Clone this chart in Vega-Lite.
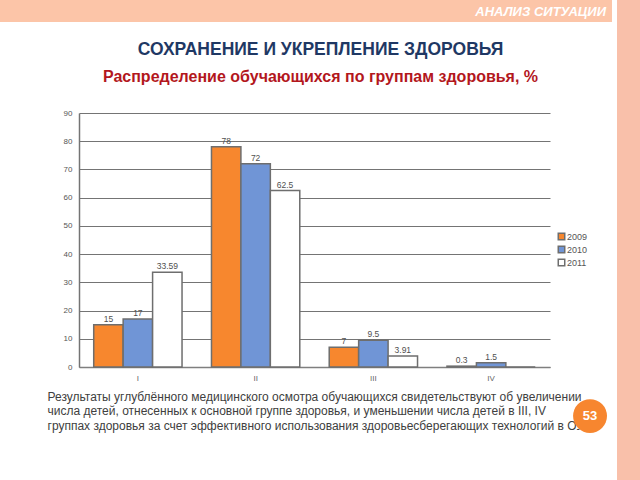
{
  "$schema": "https://vega.github.io/schema/vega-lite/v6.json",
  "padding": 0,
  "background": "white",
  "config": {"view": {"stroke": null}, "font": "Liberation Sans"},
  "bounds": "full",
  "spacing": 5,
  "hconcat": [
    {
      "bounds": "flush",
      "spacing": 91,
      "vconcat": [
        {
          "width": 612,
          "height": 22,
          "view": {"fill": "#fcc5a8", "stroke": null},
          "data": {"values": [{"label": "АНАЛИЗ СИТУАЦИИ"}]},
          "mark": {"type": "text", "align": "right", "baseline": "middle", "dx": -6, "dy": 1, "fontSize": 13, "fontWeight": "bold", "fontStyle": "italic", "color": "white"},
          "encoding": {
            "text": {"field": "label"},
            "x": {"datum": 1, "type": "quantitative", "scale": {"domain": [0, 1]}, "axis": null}
          }
        },
        {
          "bounds": "flush",
          "spacing": 0,
          "hconcat": [
            {
              "width": 79,
              "height": 254,
              "data": {"values": [{}]},
              "mark": {"type": "text"},
              "encoding": {"text": {"value": ""}}
            },
            {
              "width": 471,
              "height": 254,
              "title": {
                "text": "СОХРАНЕНИЕ И УКРЕПЛЕНИЕ ЗДОРОВЬЯ",
                "subtitle": "Распределение обучающихся по группам здоровья, %",
                "anchor": "middle",
                "frame": "group",
                "dx": 6,
                "fontSize": 17.5,
                "color": "#1f3864",
                "fontWeight": "bold",
                "subtitleFontSize": 16,
                "subtitleColor": "#b3171d",
                "subtitleFontWeight": "bold",
                "subtitleFont": "Liberation Sans",
                "subtitlePadding": 11,
                "offset": 24
              },
              "resolve": {"scale": {"x": "independent", "y": "independent"}},
              "layer": [
                {
                  "data": {"values": [
                    {"group": "I", "year": "2009", "value": 15},
                    {"group": "I", "year": "2010", "value": 17},
                    {"group": "I", "year": "2011", "value": 33.59},
                    {"group": "II", "year": "2009", "value": 78},
                    {"group": "II", "year": "2010", "value": 72},
                    {"group": "II", "year": "2011", "value": 62.5},
                    {"group": "III", "year": "2009", "value": 7},
                    {"group": "III", "year": "2010", "value": 9.5},
                    {"group": "III", "year": "2011", "value": 3.91},
                    {"group": "IV", "year": "2009", "value": 0.3},
                    {"group": "IV", "year": "2010", "value": 1.5},
                    {"group": "IV", "year": "2011", "value": 0}
                  ]},
                  "encoding": {
                    "x": {
                      "field": "group", "type": "nominal", "sort": ["I", "II", "III", "IV"],
                      "scale": {"paddingInner": 0.25, "paddingOuter": 0.125},
                      "axis": {
                        "labelAngle": 0, "labelFontSize": 8, "labelColor": "#666666", "ticks": false,
                        "domainColor": "#7f7f7f", "domainWidth": 1.5, "labelPadding": 7,
                        "title": [
                          "Результаты углублённого медицинского осмотра обучающихся свидетельствуют об увеличении",
                          "числа детей, отнесенных к основной группе здоровья, и уменьшении числа детей в III, IV",
                          "группах здоровья за счет эффективного использования здоровьесберегающих технологий в ОУ."
                        ],
                        "titleAnchor": "start", "titleAlign": "left", "titleX": -32, "titleY": 24,
                        "titleBaseline": "top", "titleFontSize": 12, "titleFontWeight": "normal",
                        "titleColor": "#404040", "titleLineHeight": 14.5
                      }
                    },
                    "xOffset": {"field": "year", "type": "nominal", "sort": ["2009", "2010", "2011"]},
                    "y": {
                      "field": "value", "type": "quantitative",
                      "scale": {"domain": [0, 90]},
                      "axis": {
                        "values": [0, 10, 20, 30, 40, 50, 60, 70, 80, 90], "grid": true, "gridColor": "#747474",
                        "gridWidth": 1, "domainColor": "#747474", "domainWidth": 1.5, "ticks": false,
                        "labelOverlap": false,
                        "labelFontSize": 8, "labelColor": "#555555", "labelPadding": 7, "title": null
                      }
                    }
                  },
                  "layer": [
                    {
                      "mark": {"type": "bar", "stroke": "#6e6e6e", "strokeWidth": 1.5},
                      "encoding": {
                        "fill": {
                          "field": "year", "type": "nominal",
                          "scale": {"domain": ["2009", "2010", "2011"], "range": ["#f7872e", "#7095d6", "#ffffff"]},
                          "legend": {
                            "orient": "none", "legendX": 557, "legendY": 232, "title": null,
                            "symbolType": "square", "symbolSize": 42, "symbolStrokeColor": "#6e6e6e",
                            "symbolStrokeWidth": 1.5, "labelFontSize": 9, "labelColor": "#555555",
                            "rowPadding": 0, "labelOffset": 1
                          }
                        }
                      }
                    },
                    {
                      "transform": [{"filter": "datum.value > 0"}],
                      "mark": {"type": "text", "baseline": "bottom", "dy": -1, "fontSize": 8.5, "color": "#505050"},
                      "encoding": {"text": {"field": "value", "type": "quantitative"}}
                    }
                  ]
                },
                {
                  "data": {"values": [{"page": "53"}]},
                  "encoding": {
                    "x": {"datum": 1.085, "type": "quantitative", "scale": {"domain": [0, 1]}, "axis": null},
                    "y": {"datum": -17.4, "type": "quantitative", "scale": {"domain": [0, 90]}, "axis": null}
                  },
                  "layer": [
                    {"mark": {"type": "circle", "size": 1150, "color": "#f7862f", "opacity": 1, "clip": false}},
                    {"mark": {"type": "text", "color": "white", "fontWeight": "bold", "fontSize": 13, "baseline": "middle"}, "encoding": {"text": {"field": "page"}}}
                  ]
                }
              ]
            }
          ]
        }
      ]
    },
    {
      "width": 23,
      "height": 480,
      "view": {"fill": "#f9c0aa", "stroke": null},
      "data": {"values": [{}]},
      "mark": {"type": "text"},
      "encoding": {"text": {"value": ""}}
    }
  ]
}
